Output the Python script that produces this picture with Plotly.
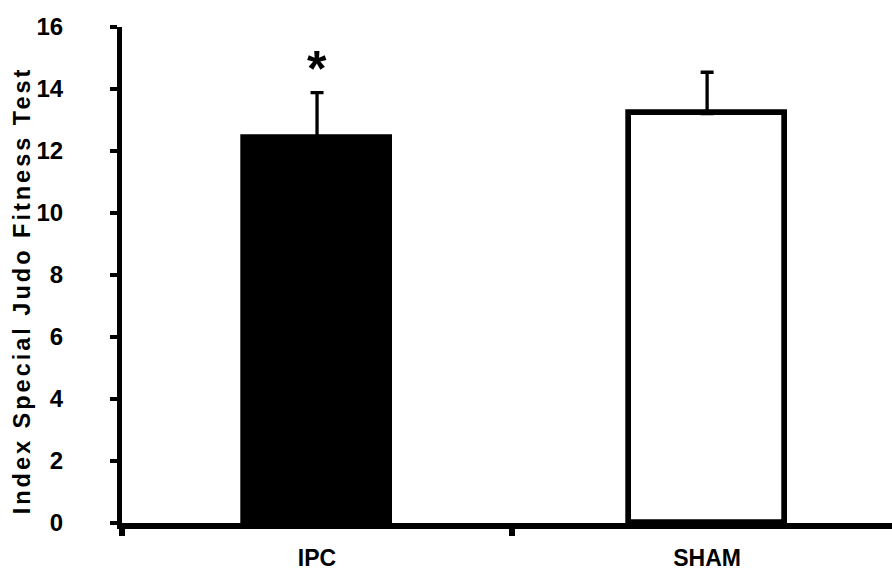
import plotly.graph_objects as go

categories = ["IPC", "SHAM"]
means = [12.42, 13.21]
errors = [1.46, 1.33]
fill_colors = ["black", "white"]
bar_widths = [0.375, 0.4]
y_ticks = [0, 2, 4, 6, 8, 10, 12, 14, 16]
y_title = "Index Special Judo Fitness Test"

fig = go.Figure()
fig.add_trace(go.Bar(
    x=categories, y=means, width=bar_widths,
    marker=dict(color=fill_colors, line=dict(color="black", width=5.7)),
    error_y=dict(type="data", array=errors, arrayminus=[0, 0], symmetric=False,
                 color="black", thickness=3.3, width=6.5),
))
fig.add_annotation(x="IPC", y=14.66, text="<b>*</b>", showarrow=False,
                   yanchor="middle",
                   font=dict(size=50, color="black", family="Liberation Sans"))
fig.add_annotation(xref="paper", yref="paper", x=-0.1299, y=0.47,
                   text=f"<b>{y_title}</b>", textangle=-90, showarrow=False,
                   xanchor="center", yanchor="middle",
                   font=dict(size=23.5, color="black", family="Liberation Sans"))

fig.update_layout(
    width=892, height=571,
    margin=dict(l=122, r=0, t=27, b=48, autoexpand=False),
    plot_bgcolor="white", paper_bgcolor="white",
    showlegend=False,
    font=dict(family="Liberation Sans", color="black", size=23.5),
    bargap=0,
)
fig.update_yaxes(
    range=[0, 16], tickvals=y_ticks, ticktext=[f"<b>{v}</b>" for v in y_ticks],
    tickfont=dict(size=24), automargin=False,
    showgrid=False, zeroline=False, showline=True, linecolor="black", linewidth=5,
    ticks="outside", ticklen=7, tickwidth=4, tickcolor="black",
    ticklabelstandoff=42,
)
fig.update_xaxes(
    range=[-0.5, 1.474], tickvals=categories, ticktext=[f"<b>{c}</b>" for c in categories],
    tickfont=dict(size=23), automargin=False,
    tickson="boundaries", ticks="outside", ticklen=7, tickwidth=6, tickcolor="black",
    showgrid=False, zeroline=False, showline=True, linecolor="black", linewidth=6,
    ticklabelstandoff=9,
)
post = (
    "document.body.style.margin='0px';"
    "document.body.style.overflow='hidden';"
    "document.querySelectorAll('.annotation-text').forEach(function(e){"
    "if(e.textContent.indexOf('Index')===0){e.style.letterSpacing='3px';}});"
)
fig.write_html("out.html", post_script=post, config={"displayModeBar": False})
